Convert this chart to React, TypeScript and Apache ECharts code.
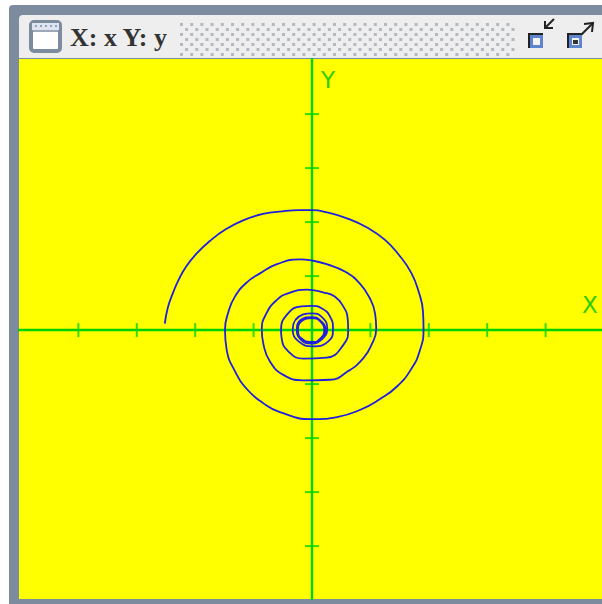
import React, { useEffect, useRef } from "react";
import * as echarts from "echarts";

const spiralX = [-2.52,-2.47,-2.38,-2.28,-2.16,-2.00,-1.75,-1.47,-1.16,-0.84,-0.51,-0.21,0,0.26,0.60,0.96,1.25,1.49,1.70,1.83,1.90,1.91,1.85,1.70,1.46,1.16,0.82,0.43,0,-0.55,-0.84,-1.10,-1.32,-1.46,-1.49,-1.43,-1.32,-1.12,-0.89,-0.60,-0.21,-0.01,0.25,0.57,0.82,0.99,1.08,1.10,1.02,0.88,0.62,0.31,-0.15,-0.49,-0.72,-0.83,-0.86,-0.78,-0.60,-0.41,-0.09,0.19,0.39,0.54,0.61,0.62,0.54,0.25,-0.15,-0.41,-0.52,-0.53,-0.41,-0.18,-0.01,0.17,0.31,0.36,0.28,0.02,-0.23,-0.33,-0.15,0,0.17,0.26,0.19,0,-0.19,-0.26,-0.19,0,0.15,0.22,0.15,0,-0.17,-0.24,-0.17,0,0.14,0.21,0.14,0,-0.16,-0.25,-0.18,0,0.16,0.23,0.16,0,-0.18,-0.25];
const spiralY = [0.12,0.41,0.69,0.94,1.17,1.39,1.65,1.87,2.04,2.15,2.20,2.22,2.22,2.18,2.07,1.89,1.67,1.39,1.06,0.70,0.35,0.02,-0.37,-0.72,-1.04,-1.28,-1.48,-1.61,-1.65,-1.52,-1.35,-1.11,-0.76,-0.37,0,0.34,0.62,0.88,1.05,1.22,1.31,1.29,1.22,1.08,0.86,0.59,0.31,0.02,-0.27,-0.52,-0.76,-0.92,-0.93,-0.83,-0.58,-0.27,0.01,0.31,0.56,0.68,0.75,0.70,0.62,0.43,0.22,0.02,-0.27,-0.51,-0.53,-0.39,-0.15,0,0.31,0.44,0.45,0.40,0.25,0.02,-0.21,-0.30,-0.21,0.01,0.29,0.31,0.24,0.04,-0.15,-0.24,-0.17,0,0.19,0.24,0.17,0,-0.17,-0.22,-0.18,0,0.17,0.22,0.16,0,-0.16,-0.23,-0.17,-0.01,0.17,0.22,0.16,0,-0.17,-0.25,-0.19,-0.01];
const xTicks = [-4, -3, -2, -1, 1, 2, 3, 4];
const yTicks = [-4, -3, -2, -1, 1, 2, 3, 4];
const titleText = "X: x Y: y";
const xName = "X";
const yName = "Y";

const GREEN = "#00d400";
const FRAME = "#7d8b9e";

function dots() {
  const out: any[] = [];
  for (let r = 0; r < 7; r++) {
    for (let c = 0; c < 33; c++) {
      out.push({
        type: "rect",
        shape: { x: 180 + c * 10.2 + (r % 2 ? 5.1 : 0), y: 23 + r * 5, width: 3, height: 3 },
        style: { fill: "#b4b8c0" },
      });
    }
  }
  return out;
}

function windowIcon(x: number, y: number) {
  const strip: any[] = [];
  for (let i = 0; i < 5; i++) {
    strip.push({ type: "rect", shape: { x: x + 4 + i * 5, y: y + 3, width: 2, height: 2 }, style: { fill: "#8fa0c0" } });
  }
  return [
    { type: "rect", shape: { x, y, width: 29, height: 29, r: 3 }, style: { fill: "#ffffff", stroke: FRAME, lineWidth: 4 } },
    { type: "rect", shape: { x: x + 1, y: y + 1, width: 27, height: 7 }, style: { fill: "#dfe5ee" } },
    ...strip,
    { type: "line", shape: { x1: x, y1: y + 9, x2: x + 29, y2: y + 9 }, style: { stroke: FRAME, lineWidth: 1.5 } },
  ];
}

function miniButton(x: number, y: number, inner: string) {
  return [
    { type: "rect", shape: { x, y, width: 15, height: 15 }, style: { fill: "#222222" } },
    { type: "rect", shape: { x: x + 2, y: y + 2, width: 13, height: 13 }, style: { fill: "#5f86cc" } },
    { type: "rect", shape: { x: x + 5, y: y + 5, width: 7, height: 7 }, style: { fill: "#f4f4f4" } },
    ...(inner ? [{ type: "rect", shape: { x: x + 6, y: y + 7, width: 5, height: 4 }, style: { fill: inner } }] : []),
  ];
}

function arrow(line: number[], head: number[][]) {
  return [
    { type: "line", shape: { x1: line[0], y1: line[1], x2: line[2], y2: line[3] }, style: { stroke: "#222222", lineWidth: 2 } },
    { type: "polyline", shape: { points: head }, style: { stroke: "#222222", lineWidth: 2, fill: "none" } },
  ];
}

export default function App() {
  const ref = useRef<HTMLDivElement>(null);
  useEffect(() => {
    const chart = echarts.init(ref.current!, undefined, { renderer: "svg" });
    chart.setOption({
      animation: false,
      backgroundColor: "#ffffff",
      grid: { left: 19, right: 0, top: 59, bottom: 5, backgroundColor: "#ffff00", show: true, borderWidth: 0 },
      xAxis: {
        type: "value",
        min: -5.017,
        max: 4.966,
        name: xName,
        nameLocation: "end",
        nameGap: -20,
        nameTextStyle: { color: "#33cc00", fontSize: 23, fontFamily: "DejaVu Sans", verticalAlign: "bottom", padding: [0, 0, 14, 0] },
        axisLine: { onZero: true, lineStyle: { color: GREEN, width: 2.4 } },
        axisTick: { show: false },
        axisLabel: { show: false },
        splitLine: { show: false },
      },
      yAxis: {
        type: "value",
        min: -4.98,
        max: 5.02,
        name: yName,
        nameLocation: "end",
        nameGap: -32,
        nameTextStyle: { color: "#33cc00", fontSize: 23, fontFamily: "DejaVu Sans", padding: [0, 0, 0, 32] },
        axisLine: { onZero: true, lineStyle: { color: GREEN, width: 2.4 } },
        axisTick: { show: false },
        axisLabel: { show: false },
        splitLine: { show: false },
      },
      series: [
        {
          type: "scatter",
          symbol: "rect",
          symbolSize: [2, 14],
          silent: true,
          itemStyle: { color: GREEN },
          data: xTicks.map((v) => [v, 0]),
        },
        {
          type: "scatter",
          symbol: "rect",
          symbolSize: [14, 2],
          silent: true,
          itemStyle: { color: GREEN },
          data: yTicks.map((v) => [0, v]),
        },
        {
          type: "line",
          smooth: 0.5,
          showSymbol: false,
          silent: true,
          lineStyle: { color: "#1f1fe0", width: 1.8 },
          data: spiralX.map((x, i) => [x, spiralY[i]]),
        },
      ],
      graphic: [
        { type: "rect", silent: true, z: -1, shape: { x: 9, y: 5, width: 593, height: 599, r: [4, 0, 0, 0] }, style: { fill: FRAME } },
        { type: "rect", silent: true, z: -1, shape: { x: 19, y: 15, width: 583, height: 43, r: [4, 0, 0, 0] }, style: { fill: "#eeeeee" } },
        {
          type: "group",
          silent: true,
          children: [
            ...windowIcon(31, 22),
            { type: "text", style: { x: 70, y: 37, text: titleText, fill: "#333333", font: "bold 26px 'Liberation Serif'", verticalAlign: "middle" } },
            ...dots(),
            ...arrow([554, 19, 546, 27], [[545, 21], [545, 28], [553, 28]]),
            ...miniButton(528, 33, ""),
            ...arrow([580, 36, 592, 24], [[584, 24], [593, 23], [592, 32]]),
            ...miniButton(567, 33, "#333333"),
          ],
        },
      ],
    });
    return () => chart.dispose();
  }, []);
  return <div ref={ref} style={{ position: "fixed", left: 0, top: 0, width: 602, height: 604 }} />;
}
